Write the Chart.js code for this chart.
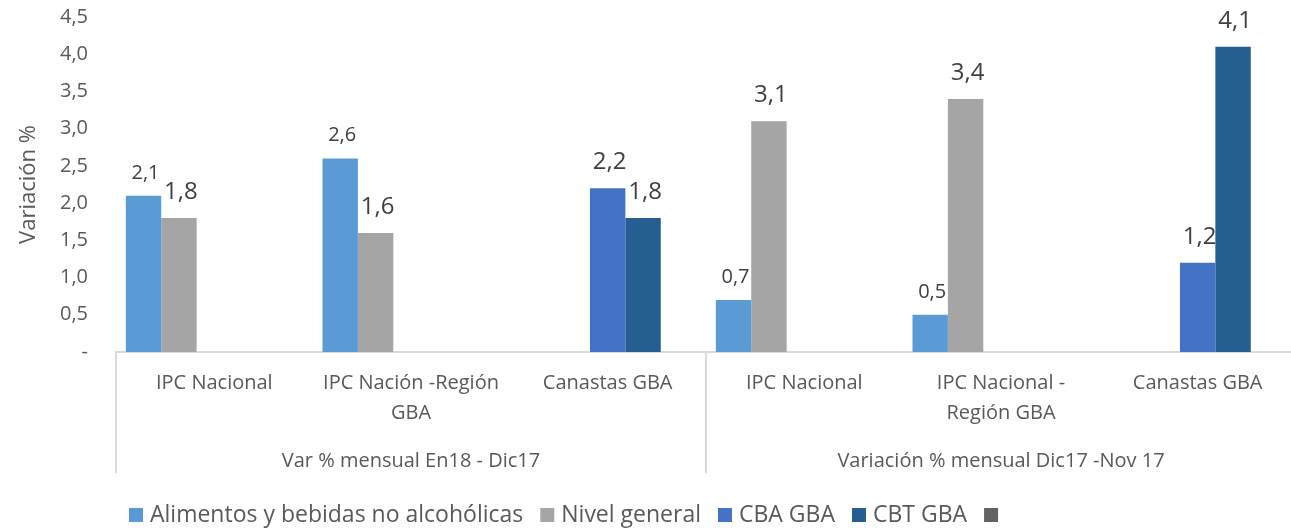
<!DOCTYPE html>
<html>
<head>
<meta charset="utf-8">
<script src="https://cdn.jsdelivr.net/npm/chart.js@4/dist/chart.umd.min.js"></script>
<style>
  body { margin: 0; background: #fff; overflow: hidden; }
  #wrap { width: 1300px; height: 528px; }
</style>
</head>
<body>
<div id="wrap"><canvas id="chart"></canvas></div>
<script>
// x axis: inner categories and the two outer groups
const categories = [
    'IPC Nacional',
    ['IPC Nación -Región', 'GBA'],
    'Canastas GBA',
    'IPC Nacional',
    ['IPC Nacional -', 'Región GBA'],
    'Canastas GBA'
];
const groupLabels = ['Var % mensual En18 - Dic17', 'Variación % mensual Dic17 -Nov 17'];
const groupSizes = [3, 3];

// series values (%)
const alimentos = [2.1, 2.6, null, 0.7, 0.5, null];
const nivelGeneral = [1.8, 1.6, null, 3.1, 3.4, null];
const cbaGba = [null, null, 2.2, null, null, 1.2];
const cbtGba = [null, null, 1.8, null, null, 4.1];
const sinNombre = [null, null, null, null, null, null];

const seriesNames = ['Alimentos y bebidas no alcohólicas', 'Nivel general', 'CBA GBA', 'CBT GBA', ''];
const seriesColors = ['#5B9BD5', '#A5A5A5', '#4472C4', '#255E91', '#636363'];

const FONT = "'Open Sans', sans-serif";
const TEXT = '#595959';
const LINE = '#d9d9d9';

Chart.defaults.font.family = FONT;
Chart.defaults.color = TEXT;

const fmt = v => v.toFixed(1).replace('.', ',');

// value labels above each bar
const valueLabels = {
    id: 'valueLabels',
    afterDatasetsDraw(chart) {
        const ctx = chart.ctx;
        chart.data.datasets.forEach((ds, i) => {
            const meta = chart.getDatasetMeta(i);
            meta.data.forEach((bar, j) => {
                const v = ds.data[j];
                if (v == null) return;
                const small = i === 0;
                ctx.save();
                ctx.font = (small ? 20 : 24) + 'px ' + FONT;
                ctx.fillStyle = '#404040';
                ctx.textAlign = 'center';
                ctx.textBaseline = 'alphabetic';
                ctx.fillText(fmt(v), bar.x + 2, bar.y - (small ? 17 : 19));
                ctx.restore();
            });
        });
    }
};

// outer group labels + separators of the multi-level axis
const groupAxis = {
    id: 'groupAxis',
    afterDraw(chart) {
        const ctx = chart.ctx;
        const x = chart.scales.x;
        const step = (x.getPixelForValue(1) - x.getPixelForValue(0));
        const top = x.top;
        const bottom = 473;
        ctx.save();
        ctx.strokeStyle = LINE;
        ctx.lineWidth = 2;
        let start = 0;
        const edges = [x.left];
        groupSizes.forEach(n => {
            const end = start + n;
            edges.push(x.getPixelForValue(end - 1) + step / 2);
            start = end;
        });
        edges.forEach(px => {
            ctx.beginPath();
            ctx.moveTo(px, top);
            ctx.lineTo(px, bottom);
            ctx.stroke();
        });
        ctx.font = '20px ' + FONT;
        ctx.fillStyle = TEXT;
        ctx.textAlign = 'center';
        ctx.textBaseline = 'alphabetic';
        groupLabels.forEach((g, k) => {
            ctx.fillText(g, (edges[k] + edges[k + 1]) / 2, 467);
        });
        ctx.restore();
    }
};

// legend row drawn at the bottom
const bottomLegend = {
    id: 'bottomLegend',
    afterDraw(chart) {
        const ctx = chart.ctx;
        ctx.save();
        ctx.font = '23px ' + FONT;
        ctx.textBaseline = 'middle';
        ctx.textAlign = 'left';
        let px = 129;
        const cy = 515;
        chart.data.datasets.forEach(ds => {
            ctx.fillStyle = ds.backgroundColor;
            ctx.fillRect(px, cy - 7, 14, 14);
            px += 14 + 7;
            ctx.fillStyle = TEXT;
            ctx.fillText(ds.label, px, cy);
            px += ctx.measureText(ds.label).width + 17;
        });
        ctx.restore();
    }
};

const datasets = [alimentos, nivelGeneral, cbaGba, cbtGba, sinNombre].map((d, i) => ({
    label: seriesNames[i],
    data: d,
    backgroundColor: seriesColors[i],
    categoryPercentage: 0.9,
    barPercentage: 1.0
}));

new Chart(document.getElementById('chart'), {
    type: 'bar',
    data: { labels: categories, datasets: datasets },
    options: {
        responsive: true,
        maintainAspectRatio: false,
        animation: false,
        layout: { padding: { top: 0, right: 4, left: 0, bottom: 0 } },
        plugins: {
            legend: { display: false },
            tooltip: { enabled: false }
        },
        scales: {
            x: {
                grid: { display: false, drawTicks: false },
                border: { color: LINE, width: 2 },
                ticks: {
                    font: { size: 20, lineHeight: '30px' },
                    color: TEXT,
                    padding: 16,
                    maxRotation: 0,
                    autoSkip: false
                },
                afterFit(scale) { scale.height = 176; }
            },
            y: {
                min: 0,
                max: 4.5,
                grid: { display: false, drawTicks: false },
                border: { display: false },
                ticks: {
                    stepSize: 0.5,
                    padding: 28,
                    font: { size: 20 },
                    color: TEXT,
                    callback: v => v === 0 ? '-' : fmt(v)
                },
                title: {
                    display: true,
                    text: 'Variación %',
                    font: { size: 22 },
                    color: TEXT,
                    padding: { top: 16, bottom: 0 }
                },
                afterFit(scale) {
                    scale.width = 116;
                    scale.paddingTop = 17;
                    scale.paddingBottom = 0;
                }
            }
        }
    },
    plugins: [valueLabels, groupAxis, bottomLegend]
});
</script>
</body>
</html>
